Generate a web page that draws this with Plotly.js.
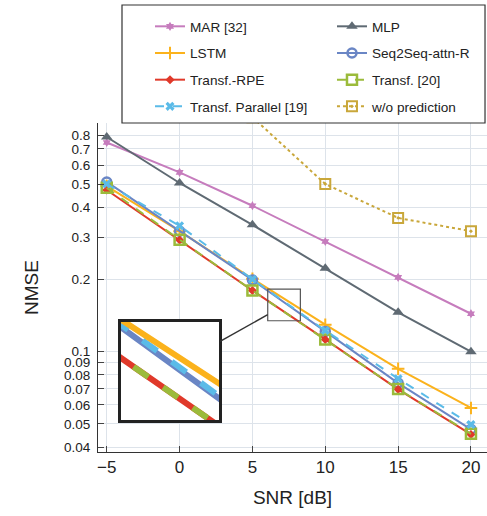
<!DOCTYPE html>
<html>
<head>
<meta charset="utf-8">
<script src="https://cdn.plot.ly/plotly-3.0.1.min.js"></script>
<style>html,body{margin:0;padding:0;background:#fff;}#chart{width:487px;height:516px;}</style>
</head>
<body>
<div id="chart"></div>
<script>
// ---- data ----
var snr = [-5, 0, 5, 10, 15, 20];
var mar = [0.745, 0.559, 0.406, 0.288, 0.204, 0.144];
var mlp = [0.785, 0.505, 0.338, 0.223, 0.146, 0.100];
var lstm = [0.49, 0.318, 0.2015, 0.1296, 0.0849, 0.0583];
var seq2seq = [0.51, 0.318, 0.199, 0.1215, 0.074, 0.0475];
var transfRPE = [0.472, 0.292, 0.180, 0.1125, 0.0697, 0.0452];
var transf20 = [0.482, 0.293, 0.180, 0.1125, 0.0699, 0.0455];
var transfParallel = [0.50, 0.335, 0.2005, 0.1225, 0.0772, 0.0497];
var snrWo = [5, 10, 15, 20];
var woPred = [0.95, 0.50, 0.361, 0.318];

var yTickVals = [0.04, 0.05, 0.06, 0.07, 0.08, 0.09, 0.1, 0.2, 0.3, 0.4, 0.5, 0.6, 0.7, 0.8];
var yTickText = ['0.04', '0.05', '0.06', '0.07', '0.08', '0.09', '0.1', '0.2', '0.3', '0.4', '0.5', '0.6', '0.7', '0.8'];
var zoomX = [6.05, 8.29];
var zoomY = [0.1346, 0.1823];

var C = {
  mar: '#c67cbd', mlp: '#5f6a73', lstm: '#fbb21c', seq: '#6a86c5',
  rpe: '#e0392a', t20: '#9bbb3b', par: '#5bbbe8', wo: '#c9a73a'
};
var FONT = 'Liberation Sans, Arial, Helvetica, sans-serif';

function main(name, y, color, dash, marker, legend, x) {
  return {
    x: x || snr, y: y, name: name, type: 'scatter', mode: 'lines+markers',
    line: {color: color, width: 2, dash: dash},
    marker: marker, legend: legend, legendgroup: name,
    xaxis: 'x', yaxis: 'y', cliponaxis: true
  };
}
function inset(y, color, dash) {
  return {
    x: snr, y: y, type: 'scatter', mode: 'lines', showlegend: false,
    line: {color: color, width: 6, dash: dash},
    xaxis: 'x2', yaxis: 'y2', hoverinfo: 'skip'
  };
}

var traces = [
  main('MAR [32]', mar, C.mar, 'solid', {symbol: 'hexagram', size: 7, color: C.mar}, 'legend'),
  main('MLP', mlp, C.mlp, 'solid', {symbol: 'triangle-up', size: 10, color: C.mlp}, 'legend2'),
  main('LSTM', lstm, C.lstm, 'solid', {symbol: 'cross-thin-open', size: 9, color: C.lstm, line: {width: 2, color: C.lstm}}, 'legend'),
  main('Seq2Seq-attn-R', seq2seq, C.seq, 'solid', {symbol: 'circle-open', size: 9, color: C.seq, line: {width: 2.5, color: C.seq}}, 'legend2'),
  main('Transf.-RPE', transfRPE, C.rpe, 'solid', {symbol: 'diamond', size: 7, color: C.rpe}, 'legend'),
  main('Transf. [20]', transf20, C.t20, 'dash', {symbol: 'square-open', size: 10, color: C.t20, line: {width: 2.5, color: C.t20}}, 'legend2'),
  main('Transf. Parallel [19]', transfParallel, C.par, 'dash', {symbol: 'x', size: 8, color: C.par}, 'legend'),
  main('w/o prediction', woPred, C.wo, 'dot', {symbol: 'square-open-dot', size: 10, color: C.wo, line: {width: 2, color: C.wo}}, 'legend2', snrWo),
  inset(seq2seq, C.seq, 'solid'),
  inset(transfParallel, C.par, 'dash'),
  inset(lstm, C.lstm, 'solid'),
  inset(transfRPE, C.rpe, 'solid'),
  inset(transf20, C.t20, 'dash')
];

var grid = '#dde3ea';
var layout = {
  width: 487, height: 516,
  margin: {l: 98, r: 0, t: 123, b: 64},
  paper_bgcolor: '#fff', plot_bgcolor: '#fff',
  font: {family: FONT, color: '#222'},
  xaxis: {
    range: [-5.6, 21.1], tick0: -5, dtick: 5,
    showgrid: true, gridcolor: grid, gridwidth: 1, zeroline: false,
    showline: true, linecolor: '#333', linewidth: 1,
    ticks: 'inside', ticklen: 6, tickcolor: '#444',
    tickfont: {family: FONT, size: 17, color: '#222'},
    title: {text: 'SNR [dB]', font: {family: FONT, size: 19, color: '#222'}, standoff: 14}
  },
  yaxis: {
    type: 'log', range: [Math.log10(0.0382), Math.log10(0.898)],
    tickvals: yTickVals, ticktext: yTickText,
    showgrid: true, gridcolor: grid, gridwidth: 1, zeroline: false,
    showline: true, linecolor: '#333', linewidth: 1,
    ticks: 'inside', ticklen: 6, tickcolor: '#444', ticklabelstandoff: 4,
    tickfont: {family: FONT, size: 13.5, color: '#222'},
    title: {text: 'NMSE', font: {family: FONT, size: 19, color: '#222'}, standoff: 20}
  },
  xaxis2: {
    domain: [0.0591, 0.311], anchor: 'y2', range: zoomX,
    showgrid: false, zeroline: false, showticklabels: false, ticks: '',
    showline: true, mirror: true, linecolor: '#222', linewidth: 3
  },
  yaxis2: {
    domain: [0.0973, 0.395], anchor: 'x2', type: 'log',
    range: [Math.log10(zoomY[0]), Math.log10(zoomY[1])],
    showgrid: false, zeroline: false, showticklabels: false, ticks: '',
    showline: true, mirror: true, linecolor: '#222', linewidth: 3
  },
  legend: {
    x: 0.1337, xanchor: 'left', y: 1.3405, yanchor: 'top',
    bgcolor: 'rgba(0,0,0,0)', borderwidth: 0, tracegroupgap: 6,
    font: {family: FONT, size: 13.6, color: '#222'}
  },
  legend2: {
    x: 0.6015, xanchor: 'left', y: 1.3405, yanchor: 'top',
    bgcolor: 'rgba(0,0,0,0)', borderwidth: 0, tracegroupgap: 6,
    font: {family: FONT, size: 13.6, color: '#222'}
  },
  shapes: [
    {type: 'rect', xref: 'paper', yref: 'paper', x0: 0.0617, x1: 0.9949, y0: 1.0, y1: 1.3587,
     line: {color: '#333', width: 1.2}, fillcolor: 'rgba(0,0,0,0)', layer: 'above'},
    {type: 'rect', xref: 'x', yref: 'y', x0: zoomX[0], x1: zoomX[1], y0: zoomY[0], y1: zoomY[1],
     line: {color: '#555', width: 1.2}, fillcolor: 'rgba(0,0,0,0)', layer: 'above'},
    {type: 'line', xref: 'x', yref: 'y', x0: 2.78, y0: 0.1104, x1: zoomX[0], y1: 0.1427,
     line: {color: '#333', width: 1.5}, layer: 'above'}
  ],
  showlegend: true
};

Plotly.newPlot('chart', traces, layout, {displayModeBar: false, staticPlot: true});
</script>
</body>
</html>
